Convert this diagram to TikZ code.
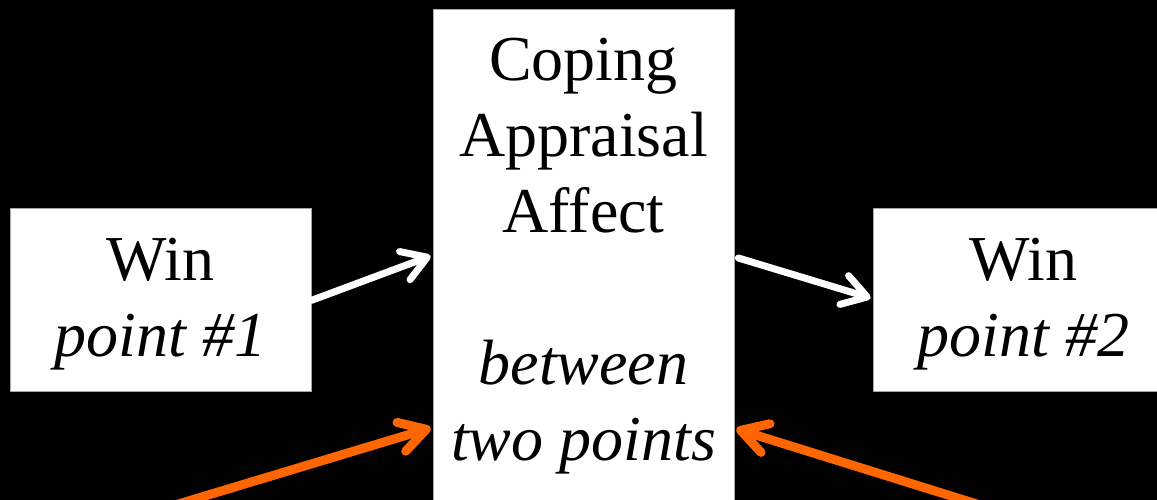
\documentclass[tikz,border=0pt]{standalone}
\usepackage{fontspec}
\setmainfont{Liberation Serif}
\usetikzlibrary{arrows.meta}
\definecolor{orng}{HTML}{FF6600}
\newcommand{\boxtext}[3]{\parbox[t][#1][t]{301pt}{\centering\fontsize{64}{76}\selectfont\vspace*{#2}\strut #3}}
\begin{document}
\begin{tikzpicture}[x=1pt,y=-1pt,
  box/.style={draw=gray!70, fill=white, line width=0.8pt, inner sep=0pt, anchor=north},
  wa/.style={draw=white, line width=7pt, line cap=round,
    -{Straight Barb[length=24pt,width=30pt,line cap=round,line join=round]}},
  oa/.style={draw=orng, line width=9pt, line cap=round,
    -{Straight Barb[length=26pt,width=30pt,line cap=round,line join=round]}}]
\fill[black] (0,0) rectangle (1157,500);
\useasboundingbox (0,0) rectangle (1157,500);
\clip (0,0) rectangle (1157,500);
\node[box] (w1) at (160.5,207.5) {\boxtext{183pt}{19.3pt}{Win\\\textit{point \#1}}};
\node[box] (w2) at (1023.5,207.5) {\boxtext{183pt}{19.3pt}{Win\\\textit{point \#2}}};
\node[box] (cb) at (583.5,9.5)
  {\boxtext{520pt}{17.3pt}{Coping\\Appraisal\\Affect\\[76pt]\textit{between}\\\textit{two points}}};
\coordinate (a1e) at (cb.west |- 0,256);
\coordinate (a2s) at (cb.east |- 0,258);
\coordinate (a2e) at (w2.west |- 0,298);
\coordinate (o1s) at (175,505);
\coordinate (o1e) at (cb.west |- 0,428);
\coordinate (o2s) at (980,505);
\coordinate (o2e) at (cb.east |- 0,429);
\draw[wa] ([yshift=-1pt]w1.east) -- ([xshift=-2pt]a1e);
\draw[wa] ([xshift=4pt]a2s) -- ([xshift=-2pt]a2e);
\draw[oa] (o1s) -- ([xshift=-2pt]o1e);
\draw[oa] (o2s) -- ([xshift=2pt]o2e);
\end{tikzpicture}
\end{document}
